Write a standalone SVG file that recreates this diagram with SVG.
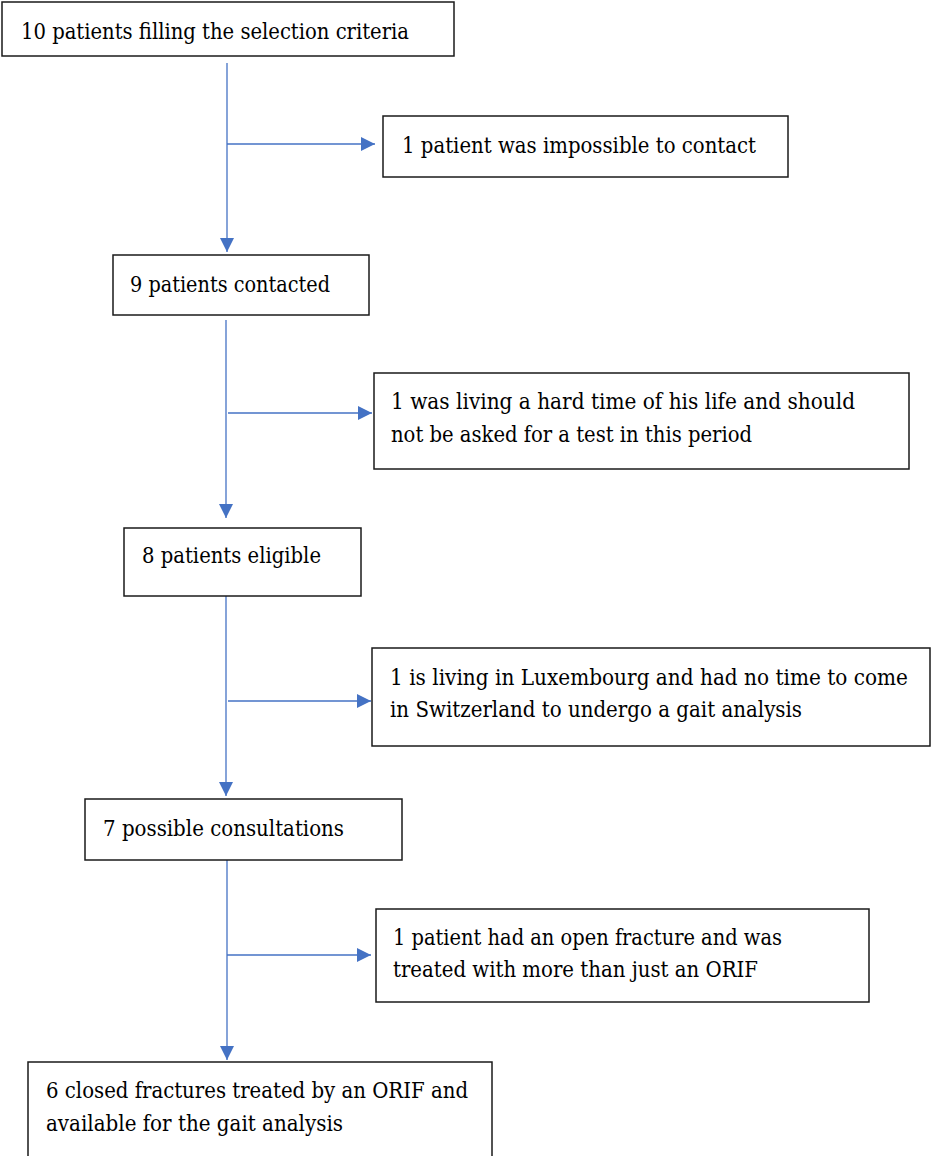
<svg xmlns="http://www.w3.org/2000/svg" width="931" height="1156" viewBox="0 0 931 1156">
<style>
.box{fill:#ffffff;stroke:#1a1a1a;stroke-width:1.5}
.t{font-family:'DejaVu Serif',serif;font-size:23px;fill:#000}
.c{stroke:#4472C4;stroke-width:1.3;fill:none}
</style>
<defs>
<marker id="ah" markerUnits="userSpaceOnUse" markerWidth="16" markerHeight="16" refX="14" refY="7" orient="auto">
<path d="M0,0 L14,7 L0,14 Z" fill="#4472C4"/>
</marker>
</defs>
<rect width="931" height="1156" fill="#ffffff"/>
<g id="connectors">
<line class="c" x1="227" y1="63" x2="227" y2="252" marker-end="url(#ah)"/>
<line class="c" x1="227" y1="144" x2="375" y2="144" marker-end="url(#ah)"/>
<line class="c" x1="226" y1="320" x2="226" y2="518" marker-end="url(#ah)"/>
<line class="c" x1="228" y1="413" x2="372" y2="413" marker-end="url(#ah)"/>
<line class="c" x1="226" y1="596" x2="226" y2="796" marker-end="url(#ah)"/>
<line class="c" x1="228" y1="701" x2="371" y2="701" marker-end="url(#ah)"/>
<line class="c" x1="227" y1="860" x2="227" y2="1060" marker-end="url(#ah)"/>
<line class="c" x1="227" y1="955" x2="371" y2="955" marker-end="url(#ah)"/>
</g>
<g id="n1"><rect class="box" x="2" y="2" width="452" height="54"/><text class="t" x="21" y="39" textLength="388" lengthAdjust="spacingAndGlyphs">10 patients filling the selection criteria</text></g>
<g id="n2"><rect class="box" x="383" y="116" width="405" height="61"/><text class="t" x="402" y="153" textLength="354" lengthAdjust="spacingAndGlyphs">1 patient was impossible to contact</text></g>
<g id="n3"><rect class="box" x="113" y="255" width="256" height="60"/><text class="t" x="130" y="292" textLength="200" lengthAdjust="spacingAndGlyphs">9 patients contacted</text></g>
<g id="n4"><rect class="box" x="374" y="373" width="535" height="96"/><text class="t" x="391" y="409" textLength="464" lengthAdjust="spacingAndGlyphs">1 was living a hard time of his life and should</text><text class="t" x="391" y="442" textLength="361" lengthAdjust="spacingAndGlyphs">not be asked for a test in this period</text></g>
<g id="n5"><rect class="box" x="124" y="528" width="237" height="68"/><text class="t" x="142" y="563" textLength="179" lengthAdjust="spacingAndGlyphs">8 patients eligible</text></g>
<g id="n6"><rect class="box" x="372" y="648" width="558" height="98"/><text class="t" x="390" y="685" textLength="518" lengthAdjust="spacingAndGlyphs">1 is living in Luxembourg and had no time to come</text><text class="t" x="390" y="717" textLength="412" lengthAdjust="spacingAndGlyphs">in Switzerland to undergo a gait analysis</text></g>
<g id="n7"><rect class="box" x="85" y="799" width="317" height="61"/><text class="t" x="103" y="836" textLength="241" lengthAdjust="spacingAndGlyphs">7 possible consultations</text></g>
<g id="n8"><rect class="box" x="376" y="909" width="493" height="93"/><text class="t" x="393" y="945" textLength="389" lengthAdjust="spacingAndGlyphs">1 patient had an open fracture and was</text><text class="t" x="393" y="977" textLength="365" lengthAdjust="spacingAndGlyphs">treated with more than just an ORIF</text></g>
<g id="n9"><rect class="box" x="28" y="1062" width="464" height="100"/><text class="t" x="46" y="1098" textLength="422" lengthAdjust="spacingAndGlyphs">6 closed fractures treated by an ORIF and</text><text class="t" x="46" y="1131" textLength="297" lengthAdjust="spacingAndGlyphs">available for the gait analysis</text></g>
</svg>
